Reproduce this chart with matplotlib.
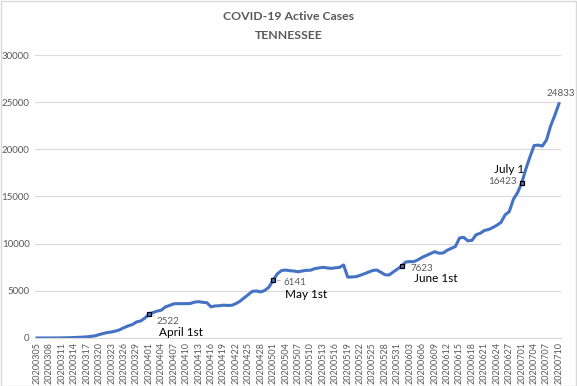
import matplotlib
matplotlib.use("Agg")
import matplotlib.pyplot as plt
import pandas as pd

plt.rcParams['font.family'] = ['Lato', 'DejaVu Sans']

# categories: daily dates, one day (0629) missing from the source sheet
dates = [d.strftime('%Y%m%d') for d in pd.date_range('2020-03-05', '2020-07-10')]
dates.remove('20200629')

active = [
    1, 1, 1, 3, 6, 8, 17, 25, 30, 50, 70, 90,
    120, 170, 230, 360, 480, 580, 640, 740, 880, 1100, 1280, 1420, 1700, 1800, 2100,
    2522, 2700, 2850, 2950, 3300, 3450, 3620, 3640, 3640, 3640, 3660, 3800, 3850,
    3780, 3740, 3300, 3400, 3420, 3480, 3450, 3460, 3650, 3900, 4250, 4600, 4950,
    4980, 4880, 5050, 5400,
    6141, 6800, 7150, 7200, 7130, 7100, 7020, 7100, 7170, 7180, 7350, 7420, 7490,
    7430, 7380, 7440, 7480, 7740, 6450, 6470, 6500, 6650, 6800, 6980, 7150, 7210,
    6970, 6700, 6680, 7000, 7300,
    7623, 8050, 8100, 8090, 8300, 8550, 8750, 8950, 9150, 8990, 9000, 9300, 9500,
    9700, 10600, 10670, 10300, 10350, 10950, 11100, 11400, 11500, 11700, 11950,
    12250, 13050, 13400, 14700, 15400,
    16423, 17900, 19200, 20400, 20450, 20350, 21000, 22500, 23600, 24833,
]

notes = {'20200401': 'April 1st', '20200501': 'May 1st', '20200601': 'June 1st', '20200701': 'July 1'}

fig = plt.figure(figsize=(5.77, 3.86), dpi=100)
fig.patches.append(plt.Rectangle((0.001, 0.001), 0.997, 0.997, transform=fig.transFigure,
                                 fill=False, edgecolor='#d9d9d9', lw=1))
ax = fig.add_axes([0.0607, 0.1244, 0.9116, 0.7331])

x = list(range(len(dates)))
ax.plot(x, active, color='#4472C4', lw=2.2, solid_joinstyle='round')

ax.set_ylim(0, 30000)
ax.set_xlim(-0.5, len(dates) - 0.5)
ax.set_yticks(range(0, 30001, 5000))
ax.set_xticks(x[::3])
ax.set_xticklabels(dates[::3], rotation=90)
ax.tick_params(axis='x', length=0, labelsize=6.5, colors='#595959', pad=3)
ax.tick_params(axis='y', length=0, labelsize=7, colors='#595959', pad=4)
ax.grid(axis='y', color='#d9d9d9', lw=0.8)
ax.set_axisbelow(True)
for s in ['top', 'right', 'left']:
    ax.spines[s].set_visible(False)
ax.spines['bottom'].set_color('#d9d9d9')

# marked points with value + caption
offs = {
    '20200401': ((8, -7), (10, -18), 'left', True),
    '20200501': ((10, -2), (12, -14), 'left', True),
    '20200601': ((9, -2), (12, -12), 'left', False),
    '20200701': ((-5, 2), (3, 14), 'right', False),
}
for d, cap in notes.items():
    i = dates.index(d)
    v = active[i]
    ax.plot(i, v, marker='s', ms=3.5, mfc='#4472C4', mec='black', mew=0.9)
    (vo, co, ha, lead) = offs[d]
    arrow = dict(arrowstyle='-', color='#a6a6a6', lw=0.6, shrinkA=0, shrinkB=3) if lead else None
    ax.annotate(str(v), (i, v), xytext=vo, textcoords='offset pixels', fontsize=7,
                color='#595959', ha=ha, va='center', arrowprops=arrow)
    ax.annotate(cap, (i, v), xytext=co, textcoords='offset pixels', fontsize=8.5,
                color='black', ha=ha, va='center')

ax.annotate(str(active[-1]), (len(dates) - 1, active[-1]), xytext=(2, 10),
            textcoords='offset pixels', fontsize=7, color='#595959', ha='center', va='center')

fig.text(0.5, 0.957, 'COVID-19 Active Cases', ha='center', va='center', fontsize=8.8,
         fontweight='bold', color='#595959')
fig.text(0.5, 0.909, 'TENNESSEE', ha='center', va='center', fontsize=8.8,
         fontweight='bold', color='#595959')

fig.savefig('out.png', dpi=100)
